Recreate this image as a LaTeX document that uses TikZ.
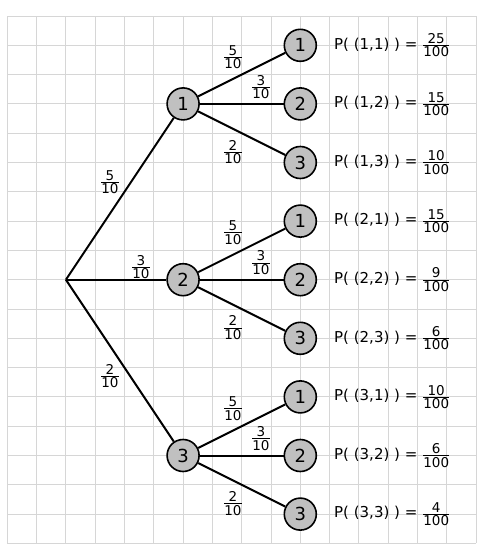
\documentclass[tikz,border=0pt]{standalone}
\usepackage{fontspec}
\setmainfont{DejaVu Sans}
\newcommand\fr[2]{${\hbox{\fontsize{13.5}{14}\selectfont #1}\above0.9pt\hbox{\fontsize{13.5}{14}\selectfont #2}}$}
\newcommand\gx[1]{7.3+(#1)*29.3}
\newcommand\gy[1]{16+(#1)*29.3}
\begin{document}
\begin{tikzpicture}[x=1pt,y=-1pt,
  gridline/.style={draw={rgb,255:red,214;green,214;blue,214},line width=0.9pt},
  circ/.style={circle,draw=black,fill={rgb,255:red,192;green,192;blue,192},line width=1.6pt,minimum size=32pt,inner sep=0pt,font=\fontsize{18}{18}\selectfont},
  edge/.style={draw=black,line width=2pt},
  frl/.style={inner sep=0pt,font=\fontsize{13.5}{14}\selectfont},
  ptext/.style={anchor=west,inner sep=0pt,font=\fontsize{15}{16}\selectfont}]
\fill[white] (0,0) rectangle (487,550);
\useasboundingbox (0,0) rectangle (487,550);
\foreach \i in {0,...,16} \draw[gridline] ({\gx{\i}},16) -- ({\gx{\i}},{\gy{18}});
\foreach \j in {0,...,18} \draw[gridline] (7.3,{\gy{\j}}) -- ({\gx{16}},{\gy{\j}});
\coordinate (r) at ({\gx{2}},{\gy{9}});
\node[circ] (a1) at ({\gx{6}},{\gy{3}}) {1};
\node[circ] (a2) at ({\gx{6}},{\gy{9}}) {2};
\node[circ] (a3) at ({\gx{6}},{\gy{15}}) {3};
\draw[edge] (r) -- (a1);
\draw[edge] (r) -- (a2);
\draw[edge] (r) -- (a3);
\node[frl] (l1) at (110,182) {\fr{5}{10}};
\node[frl] (l2) at (141,267) {\fr{3}{10}};
\node[frl] (l3) at (110,376) {\fr{2}{10}};
\foreach \g/\c in {1/3,2/9,3/15} {
  \node[circ] (b\g1) at ({\gx{10}},{\gy{\c-2}}) {1};
  \node[circ] (b\g2) at ({\gx{10}},{\gy{\c}}) {2};
  \node[circ] (b\g3) at ({\gx{10}},{\gy{\c+2}}) {3};
  \draw[edge] (a\g) -- (b\g1);
  \draw[edge] (a\g) -- (b\g2);
  \draw[edge] (a\g) -- (b\g3);
  \node[frl] (m\g1) at (233,{\gy{\c}-47}) {\fr{5}{10}};
  \node[frl] (m\g2) at (261,{\gy{\c}-17}) {\fr{3}{10}};
  \node[frl] (m\g3) at (233,{\gy{\c}+48}) {\fr{2}{10}};
}
\node[ptext] (p11) at (334,{\gy{1}}) {P( (1,1) ) = \fr{25}{100}};
\node[ptext] (p12) at (334,{\gy{3}}) {P( (1,2) ) = \fr{15}{100}};
\node[ptext] (p13) at (334,{\gy{5}}) {P( (1,3) ) = \fr{10}{100}};
\node[ptext] (p21) at (334,{\gy{7}}) {P( (2,1) ) = \fr{15}{100}};
\node[ptext] (p22) at (334,{\gy{9}}) {P( (2,2) ) = \fr{9}{100}};
\node[ptext] (p23) at (334,{\gy{11}}) {P( (2,3) ) = \fr{6}{100}};
\node[ptext] (p31) at (334,{\gy{13}}) {P( (3,1) ) = \fr{10}{100}};
\node[ptext] (p32) at (334,{\gy{15}}) {P( (3,2) ) = \fr{6}{100}};
\node[ptext] (p33) at (334,{\gy{17}}) {P( (3,3) ) = \fr{4}{100}};
\end{tikzpicture}
\end{document}
